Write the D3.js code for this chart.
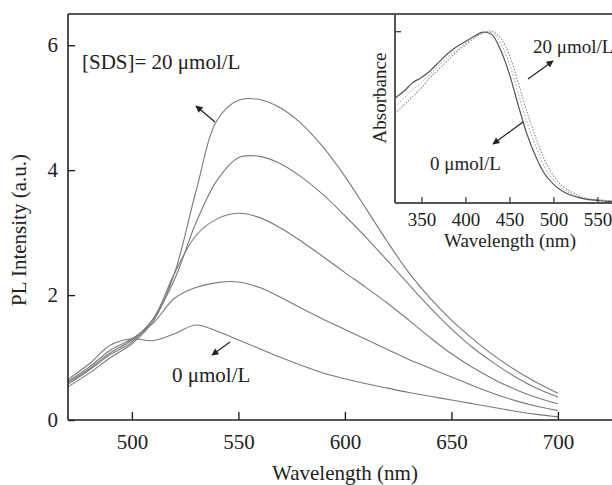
<!DOCTYPE html>
<html><head><meta charset="utf-8">
<script src="https://cdn.jsdelivr.net/npm/d3@7"></script>
<style>body{margin:0;background:#fff}svg{display:block}text{font-family:"Liberation Serif","Times New Roman",serif;fill:#222}</style>
</head><body><svg id="c" width="612" height="485"></svg>
<script>
// ---- data ----
const wl = [470,480,490,500,510,520,530,540,550,560,570,580,590,600,610,620,630,640,650,660,670,680,690,700];
const pl0  = [0.65,0.90,1.20,1.30,1.27,1.38,1.52,1.42,1.28,1.14,1.00,0.87,0.75,0.66,0.58,0.51,0.44,0.38,0.32,0.26,0.20,0.14,0.09,0.05];
const pl5  = [0.62,0.85,1.12,1.30,1.55,1.95,2.12,2.20,2.21,2.12,1.96,1.78,1.61,1.45,1.29,1.13,0.97,0.83,0.69,0.55,0.42,0.31,0.22,0.15];
const pl10 = [0.60,0.82,1.08,1.28,1.62,2.35,2.95,3.22,3.31,3.24,3.07,2.85,2.61,2.36,2.12,1.87,1.60,1.32,1.06,0.84,0.65,0.49,0.36,0.26];
const pl15 = [0.57,0.80,1.05,1.25,1.62,2.25,3.15,3.84,4.20,4.22,4.10,3.88,3.60,3.27,2.92,2.55,2.17,1.80,1.46,1.16,0.91,0.69,0.51,0.37];
const pl20 = [0.53,0.75,1.00,1.22,1.58,2.35,3.65,4.80,5.12,5.13,4.99,4.73,4.36,3.90,3.38,2.85,2.36,1.95,1.60,1.30,1.03,0.80,0.60,0.43];
const plSeries = [pl0, pl5, pl10, pl15, pl20];
const xTicks = [500,550,600,650,700];
const yTicks = [0,2,4,6];

const wlAbs = [320,330,340,350,360,370,380,390,400,410,420,430,440,450,460,470,480,490,500,510,520,530,540,550,560,570,580,590,600];
const abs0  = [0.61,0.65,0.70,0.73,0.77,0.82,0.87,0.91,0.94,0.97,0.995,0.98,0.89,0.75,0.57,0.40,0.27,0.17,0.11,0.07,0.045,0.03,0.02,0.015,0.01,0.01,0.01,0.01,0.01];
const abs10 = [0.56,0.61,0.66,0.70,0.75,0.80,0.85,0.89,0.93,0.965,0.99,0.99,0.93,0.81,0.64,0.47,0.33,0.21,0.135,0.085,0.055,0.035,0.022,0.017,0.012,0.01,0.01,0.01,0.01];
const abs20 = [0.52,0.57,0.62,0.67,0.73,0.78,0.83,0.88,0.92,0.96,0.99,1.00,0.96,0.86,0.70,0.53,0.38,0.25,0.16,0.10,0.065,0.04,0.025,0.02,0.015,0.01,0.01,0.01,0.01];
const absTicks = [350,400,450,500,550];

// ---- chart ----
const svg = d3.select("#c");
const x = d3.scaleLinear().domain([470,730]).range([68,621.8]);
const y = d3.scaleLinear().domain([0,6.5]).range([420,14]);

const line = d3.line().x((d,i)=>x(wl[i])).y(d=>y(d)).curve(d3.curveCatmullRom);
svg.append("g").selectAll("path").data(plSeries).join("path")
  .attr("d", line).attr("fill","none").attr("stroke","#7a7a7a").attr("stroke-width",1.1);

// axes
const gx = svg.append("g").attr("transform","translate(0,420)")
  .call(d3.axisBottom(x).tickValues(xTicks).tickSize(-8).tickPadding(14).tickFormat(d3.format("d")));
const gy = svg.append("g").attr("transform","translate(68,0)")
  .call(d3.axisLeft(y).tickValues(yTicks).tickSize(-7).tickPadding(10).tickFormat(d3.format("d")));
[gx,gy].forEach(g=>{
  g.select(".domain").attr("stroke","#222").attr("stroke-width",1.6);
  g.selectAll(".tick line").attr("stroke","#222").attr("stroke-width",1.4);
  g.selectAll(".tick text").attr("font-size",21).attr("fill","#222").style("font-family",'"Liberation Serif",serif');
});
gx.select(".domain").attr("d","M68,0H612");
gy.select(".domain").attr("d","M0,420V14");
svg.append("line").attr("x1",68).attr("x2",612).attr("y1",14).attr("y2",14).attr("stroke","#222").attr("stroke-width",1.6);

svg.append("text").attr("x",345).attr("y",480).attr("text-anchor","middle").attr("font-size",21).text("Wavelength (nm)");
svg.append("text").attr("transform","translate(26,230) rotate(-90)").attr("text-anchor","middle").attr("font-size",21).text("PL Intensity (a.u.)");
svg.append("text").attr("x",82).attr("y",69).attr("font-size",21).text("[SDS]= 20 μmol/L");
svg.append("text").attr("x",172).attr("y",382).attr("font-size",21).text("0 μmol/L");

// arrows
const defs = svg.append("defs");
defs.append("marker").attr("id","ah").attr("viewBox","0 0 10 10").attr("refX",9).attr("refY",5)
  .attr("markerWidth",9).attr("markerHeight",7).attr("orient","auto").attr("markerUnits","userSpaceOnUse")
  .append("path").attr("d","M0,0L10,5L0,10z").attr("fill","#222");
function arrow(x1,y1,x2,y2){
  svg.append("line").attr("x1",x1).attr("y1",y1).attr("x2",x2).attr("y2",y2)
    .attr("stroke","#222").attr("stroke-width",1.2).attr("marker-end","url(#ah)");
}
arrow(215,122,196,106);
arrow(230,342,212,355);

// ---- inset ----
const xi = d3.scaleLinear().domain([320,600]).range([395,641.4]);
const yi = d3.scaleLinear().domain([0,1.1]).range([203,14]);
svg.append("rect").attr("x",395).attr("y",15).attr("width",217).attr("height",188).attr("fill","#fff");
const lineI = d3.line().x((d,i)=>xi(wlAbs[i])).y(d=>yi(d)).curve(d3.curveCatmullRom);
svg.append("path").attr("d",lineI(abs20)).attr("fill","none").attr("stroke","#8a8a8a").attr("stroke-width",1.1).attr("stroke-dasharray","1.5,1.5");
svg.append("path").attr("d",lineI(abs10)).attr("fill","none").attr("stroke","#9a9a9a").attr("stroke-width",1).attr("stroke-dasharray","1.5,2");
svg.append("path").attr("d",lineI(abs0)).attr("fill","none").attr("stroke","#555").attr("stroke-width",1.2);

const gxi = svg.append("g").attr("transform","translate(0,203)")
  .call(d3.axisBottom(xi).tickValues(absTicks).tickSize(-6).tickPadding(10).tickFormat(d3.format("d")));
const gyi = svg.append("g").attr("transform","translate(395,0)")
  .call(d3.axisLeft(yi).tickValues([1]).tickSize(-6).tickFormat(""));
[gxi,gyi].forEach(g=>{
  g.select(".domain").attr("stroke","#555").attr("stroke-width",2);
  g.selectAll(".tick line").attr("stroke","#444").attr("stroke-width",1.3);
  g.selectAll(".tick text").attr("font-size",19).attr("fill","#222").style("font-family",'"Liberation Serif",serif');
});
gxi.select(".domain").attr("d","M395,0H612");
gyi.select(".domain").attr("d","M0,203V14");
svg.append("text").attr("x",510).attr("y",247).attr("text-anchor","middle").attr("font-size",19).text("Wavelength (nm)");
svg.append("text").attr("transform","translate(386,98) rotate(-90)").attr("text-anchor","middle").attr("font-size",19).text("Absorbance");
svg.append("text").attr("x",533).attr("y",53).attr("font-size",19).text("20 μmol/L");
svg.append("text").attr("x",430).attr("y",170).attr("font-size",19).text("0 μmol/L");
arrow(528,79,553,61);
arrow(523,122,493,144);
</script></body></html>
